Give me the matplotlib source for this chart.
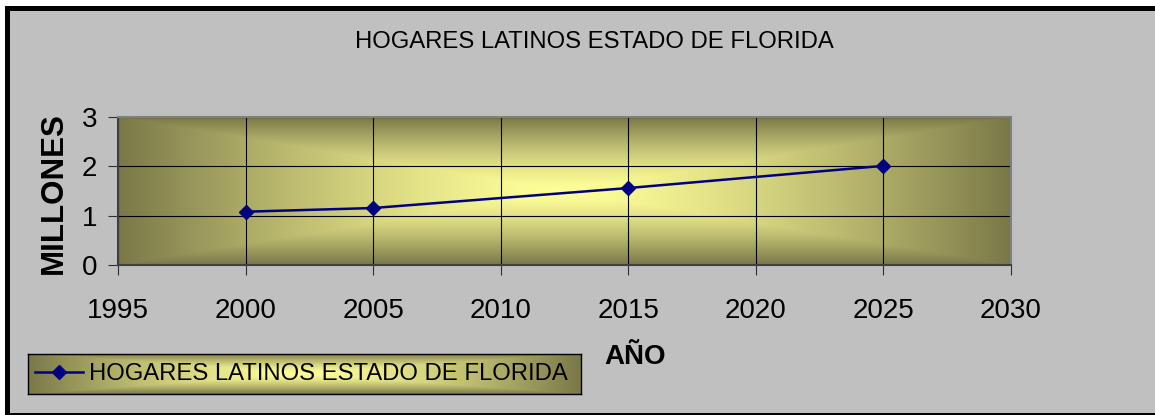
import numpy as np
import matplotlib
matplotlib.use("Agg")
import matplotlib.pyplot as plt
from matplotlib.patches import Rectangle
from matplotlib.lines import Line2D

plt.rcParams["font.family"] = ["Liberation Sans", "DejaVu Sans"]

# data
years = [2000, 2005, 2015, 2025]
hogares = [1.08, 1.155, 1.56, 2.01]
x_ticks = [1995, 2000, 2005, 2010, 2015, 2020, 2025, 2030]
y_ticks = [0, 1, 2, 3]
titulo = "HOGARES LATINOS ESTADO DE FLORIDA"
serie = "HOGARES LATINOS ESTADO DE FLORIDA"

W, H = 1155, 415
CENTER = np.array([255, 255, 153]) / 255.0
EDGE = np.array([122, 120, 72]) / 255.0


def fx(px):
    return px / W


def fy(py):
    return 1 - py / H


def rect_gradient(nx, ny):
    # excel style "from center" rectangular fill
    u = np.abs(np.linspace(-1, 1, nx))[None, :]
    v = np.abs(np.linspace(-1, 1, ny))[:, None]
    t = (np.maximum(u, v) ** 1.4)[..., None]
    return CENTER * (1 - t) + EDGE * t


fig = plt.figure(figsize=(W / 100, H / 100), dpi=100)
fig.patch.set_facecolor("white")

# chart frame: thick black top/left, thin bottom
fig.add_artist(Rectangle((fx(5), 0), 1, fy(6), transform=fig.transFigure,
                         facecolor="black", edgecolor="none", zorder=-10))
fig.add_artist(Rectangle((fx(10), 2 / H), 1, fy(11) - 2 / H, transform=fig.transFigure,
                         facecolor="#C0C0C0", edgecolor="none", zorder=-9))

ax = fig.add_axes([fx(118), fy(265), (1011 - 118) / W, (265 - 117) / H])
ax.set_facecolor("none")
ax.imshow(rect_gradient(400, 200), extent=(1995, 2030, 0, 3), aspect="auto",
          interpolation="bilinear", zorder=0)

ax.plot(years, hogares, color="#000080", lw=1.8, marker="D", ms=7.2,
        markeredgecolor="#000080", zorder=3, label=serie)

ax.set_xlim(1995, 2030)
ax.set_ylim(0, 3)
ax.set_xticks(x_ticks)
ax.set_yticks(y_ticks)
ax.grid(True, color="black", lw=0.8)
ax.tick_params(axis="both", direction="out", length=7, width=0.8,
               color="#303030", labelsize=20)
ax.tick_params(axis="x", pad=17)
ax.tick_params(axis="y", pad=8)

for side, col in [("top", "#808080"), ("right", "#808080"),
                  ("left", "#404040"), ("bottom", "#404040")]:
    ax.spines[side].set_color(col)
    ax.spines[side].set_linewidth(1.5)

fig.text(fx(594), fy(48), titulo, ha="center", va="baseline", fontsize=17.2)
fig.text(fx(54), fy(193), "MILLONES", rotation=90, ha="center", va="center",
         fontsize=22.5, fontweight="bold")
fig.text(fx(635), fy(364), "AÑO", ha="center", va="baseline",
         fontsize=20, fontweight="bold")

# legend with gradient box
lax = fig.add_axes([fx(28), fy(394), (581 - 28) / W, 40 / H])
lax.imshow(rect_gradient(400, 60), aspect="auto", interpolation="bilinear")
lax.set_xticks([])
lax.set_yticks([])
for s in lax.spines.values():
    s.set_color("black")
    s.set_linewidth(1)

handle = Line2D([], [], color="#000080", lw=1.8, marker="D", ms=7.2)
fig.legend([handle], [serie], loc="center left",
           bbox_to_anchor=(fx(35), fy(374)), frameon=False, fontsize=17.2,
           borderpad=0, borderaxespad=0, handlelength=2.0, handletextpad=0.25)

fig.savefig("out.png", dpi=100)
